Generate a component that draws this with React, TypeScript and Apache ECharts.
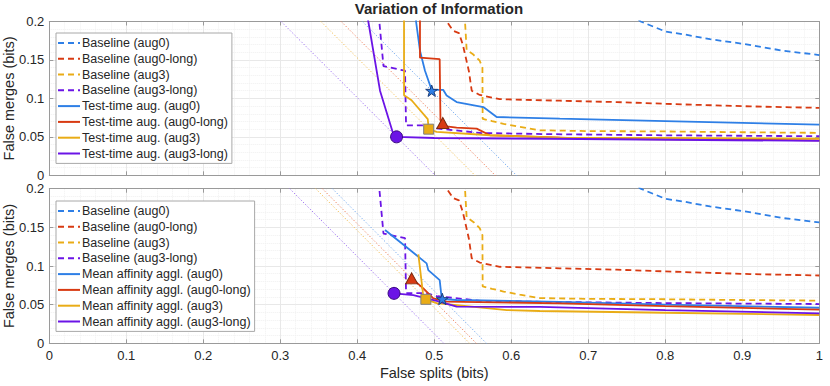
import { useEffect, useRef } from "react";
import * as echarts from "echarts";

type P = [number, number];

// ---------- names ----------
const baselineNames = ["Baseline (aug0)", "Baseline (aug0-long)", "Baseline (aug3)", "Baseline (aug3-long)"];
const ttaNames = ["Test-time aug. (aug0)", "Test-time aug. (aug0-long)", "Test-time aug. (aug3)", "Test-time aug. (aug3-long)"];
const maNames = ["Mean affinity aggl. (aug0)", "Mean affinity aggl. (aug0-long)", "Mean affinity aggl. (aug3)", "Mean affinity aggl. (aug3-long)"];

// ---------- baseline curves (same in both panels) ----------
const baselineAug0: P[] = [[0.755, 0.21], [0.768, 0.2], [0.8, 0.187], [0.823, 0.1835], [0.858, 0.177], [0.901, 0.171], [0.953, 0.162], [1.0, 0.1564]];
const baselineAug0Long: P[] = [[0.515, 0.21], [0.516, 0.2], [0.5247, 0.1878], [0.532, 0.185], [0.537, 0.17], [0.545, 0.135], [0.5486, 0.11], [0.559, 0.1045], [0.585, 0.099], [0.663, 0.097], [0.737, 0.0952], [0.823, 0.0922], [0.91, 0.0896], [1.0, 0.0877]];
const baselineAug3: P[] = [[0.54, 0.21], [0.54, 0.198], [0.542, 0.163], [0.5507, 0.157], [0.559, 0.149], [0.5625, 0.14], [0.5628, 0.0735], [0.575, 0.0705], [0.59, 0.067], [0.611, 0.063], [0.637, 0.0585], [0.7, 0.0575], [0.8, 0.057], [0.9, 0.056], [1.0, 0.0552]];
const baselineAug3Long: P[] = [[0.4286, 0.21], [0.4286, 0.2], [0.434, 0.142], [0.462, 0.136], [0.4633, 0.065], [0.49, 0.065], [0.503, 0.061], [0.56, 0.055], [0.65, 0.0535], [0.8, 0.052], [1.0, 0.0508]];

// ---------- test-time augmentation (top panel) ----------
const ttaAug0: P[] = [[0.4763, 0.21], [0.4763, 0.2], [0.4814, 0.162], [0.4879, 0.136], [0.4966, 0.111], [0.5117, 0.111], [0.516, 0.1038], [0.529, 0.0952], [0.5637, 0.0887], [0.581, 0.0758], [0.663, 0.0737], [0.8, 0.0705], [1.0, 0.0659]];
const ttaAug0Long: P[] = [[0.4814, 0.21], [0.4814, 0.153], [0.507, 0.151], [0.508, 0.0715], [0.511, 0.068], [0.516, 0.0637], [0.529, 0.062], [0.555, 0.0607], [0.5723, 0.052], [0.637, 0.0499], [0.7, 0.0475], [1.0, 0.0455]];
const ttaAug3: P[] = [[0.4607, 0.21], [0.4607, 0.104], [0.47, 0.098], [0.4727, 0.095], [0.4915, 0.073], [0.4927, 0.06], [0.503, 0.0564], [0.5723, 0.0521], [0.663, 0.0491], [0.8, 0.0485], [1.0, 0.0478]];
const ttaAug3Long: P[] = [[0.4125, 0.21], [0.4143, 0.2], [0.4295, 0.11], [0.446, 0.056], [0.451, 0.05], [0.5, 0.0485], [0.65, 0.0475], [1.0, 0.0447]];

// ---------- mean affinity agglomeration (bottom panel) ----------
const maAug0: P[] = [[0.436, 0.1465], [0.4685, 0.1206], [0.49, 0.1034], [0.4922, 0.0947], [0.507, 0.0818], [0.5096, 0.0582], [0.5104, 0.0573], [0.529, 0.056], [0.663, 0.0535], [0.8, 0.05], [1.0, 0.046]];
const maAug0Long: P[] = [[0.4706, 0.084], [0.4858, 0.0711], [0.4987, 0.058], [0.516, 0.054], [0.663, 0.0517], [0.8, 0.048], [1.0, 0.0435]];
const maAug3: P[] = [[0.4793, 0.115], [0.4858, 0.0602], [0.489, 0.0569], [0.503, 0.052], [0.529, 0.0495], [0.5942, 0.043], [0.637, 0.0418], [0.8, 0.0395], [1.0, 0.0366]];
const maAug3Long: P[] = [[0.4477, 0.0646], [0.4727, 0.0624], [0.503, 0.055], [0.529, 0.0474], [0.637, 0.047], [0.8, 0.043], [1.0, 0.0388]];

// ---------- operating-point markers (order: aug0, aug0-long, aug3, aug3-long) ----------
const topMarkerX = [0.4966, 0.511, 0.4927, 0.451];
const topMarkerY = [0.11, 0.068, 0.06, 0.05];
const bottomMarkerX = [0.5104, 0.4706, 0.489, 0.4477];
const bottomMarkerY = [0.0573, 0.084, 0.0569, 0.0646];

// ---------- styling ----------
const COLORS = ["#2E7FE6", "#D83A12", "#E9AC16", "#6B14E6"];
const LIGHT = ["#6fa6ee", "#ec7a55", "#f0bd50", "#9a6cf0"];
const MARKER_EDGE = ["#1b3d7a", "#7a2a10", "#808080", "#3a0a80"];
const STAR = "path://M50,0 L61.8,35.1 L98.1,35.1 L68.8,56.8 L79.4,91.9 L50,70.3 L20.6,91.9 L31.2,56.8 L1.9,35.1 L38.2,35.1 Z";
const MARKER_SYMBOLS = [STAR, "triangle", "rect", "circle"];
const MARKER_SIZES: any[] = [12, [12, 11], 10, 12];
const FONT = "'Liberation Sans', Arial, Helvetica, sans-serif";
const AX = "#9a9a9a";
const TXT = "#262626";

function makeAxes(g: number, bottom: boolean) {
  const common = {
    type: "value",
    gridIndex: g,
    axisLine: { show: true, onZero: false, lineStyle: { color: AX, width: 1 } },
    axisTick: { show: true, inside: true, length: 4, lineStyle: { color: AX } },
    minorTick: { show: false, splitNumber: 5 },
  };
  const x = [
    {
      ...common,
      min: 0, max: 1, interval: 0.1, position: "bottom",
      axisLabel: { show: bottom, color: TXT, fontSize: 13, margin: 6, fontFamily: FONT },
      splitLine: { show: true, lineStyle: { color: "#e8e8e8", width: 1 } },
      minorSplitLine: { show: true, lineStyle: { color: "#f0f0f0", type: "dotted", width: 1 } },
      name: bottom ? "False splits (bits)" : "",
      nameLocation: "middle",
      nameGap: 22,
      nameMoveOverlap: false,
      nameTextStyle: { color: TXT, fontSize: 14.5, fontFamily: FONT },
    },
    {
      ...common,
      min: 0, max: 1, interval: 0.1, position: "top",
      axisLabel: { show: false },
      splitLine: { show: false },
    },
  ];
  const y = [
    {
      ...common,
      min: 0, max: 0.2, interval: 0.05, position: "left",
      axisLabel: { show: true, color: TXT, fontSize: 13, margin: 5, fontFamily: FONT },
      splitLine: { show: true, lineStyle: { color: "#e8e8e8", width: 1 } },
      minorSplitLine: { show: true, lineStyle: { color: "#f0f0f0", type: "dotted", width: 1 } },
      name: "False merges (bits)",
      nameLocation: "middle",
      nameGap: 33,
      nameMoveOverlap: false,
      nameTextStyle: { color: TXT, fontSize: 14.5, fontFamily: FONT },
    },
    {
      ...common,
      min: 0, max: 0.2, interval: 0.05, position: "right",
      axisLabel: { show: false },
      splitLine: { show: false },
    },
  ];
  return { x, y };
}

function makeSeries(g: number, methodNames: string[], methodData: P[][], mx: number[], my: number[]) {
  const xi = g * 2;
  const yi = g * 2;
  const baselines = [baselineAug0, baselineAug0Long, baselineAug3, baselineAug3Long];
  const out: any[] = [];
  // iso-VI dotted lines through each operating point (x + y = const)
  mx.forEach((x, i) => {
    const s = x + my[i];
    out.push({
      type: "line", xAxisIndex: xi, yAxisIndex: yi, symbol: "none", silent: true, z: 1,
      data: [[s - 0.3, 0.3], [s + 0.05, -0.05]],
      lineStyle: { color: LIGHT[i], width: 1, type: [1.2, 2] },
    });
  });
  baselines.forEach((d, i) => {
    out.push({
      type: "line", name: baselineNames[i], xAxisIndex: xi, yAxisIndex: yi, symbol: "none", z: 2,
      data: d, lineStyle: { color: COLORS[i], width: 1.8, type: [6, 4] }, itemStyle: { color: COLORS[i] },
    });
  });
  methodData.forEach((d, i) => {
    out.push({
      type: "line", name: methodNames[i], xAxisIndex: xi, yAxisIndex: yi, symbol: "none", z: 3,
      data: d, lineStyle: { color: COLORS[i], width: 1.8 }, itemStyle: { color: COLORS[i] },
    });
  });
  mx.forEach((x, i) => {
    out.push({
      type: "scatter", xAxisIndex: xi, yAxisIndex: yi, z: 6, silent: true,
      symbol: MARKER_SYMBOLS[i], symbolSize: MARKER_SIZES[i], symbolKeepAspect: true,
      data: [[x, my[i]]],
      itemStyle: { color: COLORS[i], borderColor: MARKER_EDGE[i], borderWidth: 1, opacity: 1 },
    });
  });
  return out;
}

function legend(top: number, names: string[]) {
  return {
    show: true,
    orient: "vertical",
    left: 56,
    top,
    data: [...baselineNames, ...names],
    selectedMode: false,
    itemWidth: 22,
    itemHeight: 10,
    itemGap: 0,
    padding: [2, 4, 2, 1],
    backgroundColor: "#ffffff",
    borderColor: "#a8a8a8",
    borderWidth: 1,
    borderRadius: 0,
    itemStyle: { color: "transparent", borderWidth: 0, opacity: 0 },
    textStyle: { color: TXT, fontSize: 12.5, fontFamily: FONT, lineHeight: 15.8, padding: [0, 0, 0, -3] },
  };
}

export default function App() {
  const ref = useRef<HTMLDivElement>(null);
  useEffect(() => {
    if (!ref.current) return;
    const chart = echarts.init(ref.current, undefined, { renderer: "svg" });
    const a0 = makeAxes(0, false);
    const a1 = makeAxes(1, true);
    chart.setOption({
      animation: false,
      backgroundColor: "#ffffff",
      title: {
        text: "Variation of Information",
        left: 434,
        top: -4,
        textAlign: "center",
        textStyle: { color: TXT, fontSize: 15, fontWeight: "bold", fontFamily: FONT },
      },
      grid: [
        { left: 49.3, right: 10.7, top: 21.5, height: 153.8, containLabel: false, outerBoundsMode: "none" },
        { left: 49.3, right: 10.7, top: 188.7, height: 154.6, containLabel: false, outerBoundsMode: "none" },
      ],
      xAxis: [...a0.x, ...a1.x],
      yAxis: [...a0.y, ...a1.y],
      legend: [legend(33, ttaNames), legend(201, maNames)],
      series: [
        ...makeSeries(0, ttaNames, [ttaAug0, ttaAug0Long, ttaAug3, ttaAug3Long], topMarkerX, topMarkerY),
        ...makeSeries(1, maNames, [maAug0, maAug0Long, maAug3, maAug3Long], bottomMarkerX, bottomMarkerY),
      ],
    });
    return () => chart.dispose();
  }, []);
  return <div ref={ref} style={{ position: "absolute", left: 0, top: 0, width: 830, height: 386 }} />;
}
